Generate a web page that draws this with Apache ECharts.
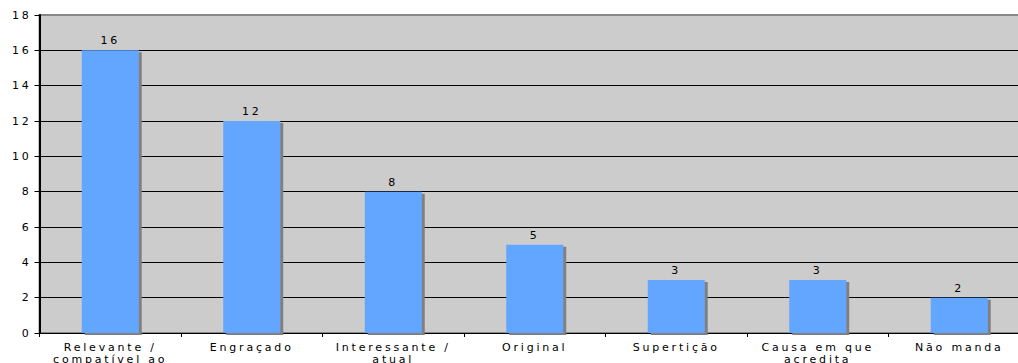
<!DOCTYPE html>
<html>
<head>
<meta charset="utf-8">
<script src="https://cdn.jsdelivr.net/npm/echarts@6/dist/echarts.min.js"></script>
<style>
  html, body { margin: 0; padding: 0; background: #ffffff; }
  #chart { width: 1018px; height: 363px; }
  #chart text { letter-spacing: 2.8px; }
</style>
</head>
<body>
<div id="chart"></div>
<script>
// Reasons given, with the number of answers for each
const categories = [
  'Relevante /\ncompatível ao',
  'Engraçado',
  'Interessante /\natual',
  'Original',
  'Supertição',
  'Causa em que\nacredita',
  'Não manda'
];
const counts = [16, 12, 8, 5, 3, 3, 2];
const yTicks = { min: 0, max: 18, interval: 2 };

const font = 'DejaVu Sans, Verdana, sans-serif';
const chart = echarts.init(document.getElementById('chart'), null, { renderer: 'svg' });

chart.setOption({
  animation: false,
  backgroundColor: '#ffffff',
  grid: {
    left: 39.5, top: 15, bottom: 30, right: -12,
    outerBoundsMode: 'none',
    containLabel: false,
    show: true,
    backgroundColor: '#cccccc',
    borderColor: '#888888',
    borderWidth: 2
  },
  xAxis: {
    type: 'category',
    data: categories,
    boundaryGap: true,
    axisLine: { lineStyle: { color: '#000000', width: 1 } },
    axisTick: { show: true, length: 4, lineStyle: { color: '#000000' } },
    axisLabel: {
      interval: 0,
      margin: 8,
      color: '#000000',
      fontFamily: font,
      fontSize: 11,
      lineHeight: 12
    },
    splitLine: { show: false }
  },
  yAxis: {
    type: 'value',
    min: yTicks.min,
    max: yTicks.max,
    interval: yTicks.interval,
    axisLine: { show: true, lineStyle: { color: '#000000', width: 2 } },
    axisTick: { show: true, length: 5, lineStyle: { color: '#000000' } },
    axisLabel: {
      margin: 8,
      color: '#000000',
      fontFamily: font,
      fontSize: 11
    },
    splitLine: {
      show: true,
      lineStyle: {
        color: ['#000000', '#000000', '#000000', '#000000', '#000000',
                '#000000', '#000000', '#000000', '#000000', '#888888'],
        width: 1
      }
    }
  },
  series: [{
    type: 'bar',
    data: counts,
    barWidth: 57,
    itemStyle: {
      color: '#63a6ff',
      shadowColor: '#808080',
      shadowBlur: 0,
      shadowOffsetX: 3,
      shadowOffsetY: 2
    },
    label: {
      show: true,
      position: 'top',
      distance: 4,
      color: '#000000',
      fontFamily: font,
      fontSize: 11
    }
  }]
});
</script>
</body>
</html>
